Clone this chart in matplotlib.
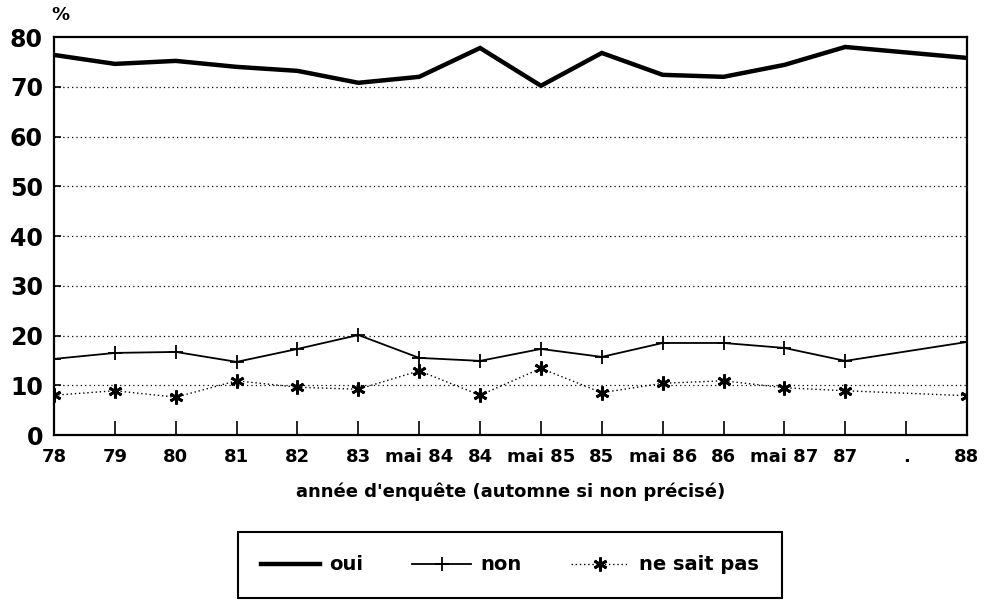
import numpy as np
import matplotlib
matplotlib.use('Agg')
import matplotlib.pyplot as plt

# survey dates (autumn unless stated), "." = no survey
labels = ['78', '79', '80', '81', '82', '83', 'mai 84', '84', 'mai 85', '85',
          'mai 86', '86', 'mai 87', '87', '.', '88']
oui = [76.4, 74.6, 75.2, 74.0, 73.2, 70.8, 72.0, 77.8, 70.2, 76.8,
       72.4, 72.0, 74.4, 78.0, None, 75.8]
non = [15.3, 16.5, 16.7, 14.7, 17.3, 20.1, 15.5, 14.9, 17.3, 15.7,
       18.5, 18.5, 17.5, 14.9, None, 18.7]
nsp = [8.0, 8.9, 7.6, 10.9, 9.6, 9.2, 12.9, 8.0, 13.4, 8.5,
       10.4, 10.9, 9.5, 8.9, None, 7.9]

plt.rcParams['font.family'] = ['DejaVu Sans']
plt.rcParams['font.weight'] = 'bold'


def valid(series):
    xs = [i for i, v in enumerate(series) if v is not None]
    ys = [v for v in series if v is not None]
    return xs, ys


fig = plt.figure(figsize=(9.86, 6.02), dpi=100)
ax = fig.add_axes([0.0548, 0.2774, 0.9259, 0.6611])

x, y = valid(oui)
ax.plot(x, y, color='black', lw=3.2, solid_joinstyle='miter', label='oui')
x, y = valid(non)
ax.plot(x, y, color='black', lw=1.3, marker='+', ms=10, mew=1.3, label='non')
x, y = valid(nsp)
ax.plot(x, y, color='black', lw=1.0, ls=(0, (1, 2)), marker=(6, 2, 0), ms=10,
        mew=2.0, label='ne sait pas')

ax.set_xlim(0, len(labels) - 1)
ax.set_ylim(0, 80)
ax.set_yticks(range(0, 81, 10))
ax.set_xticks(range(len(labels)))
ax.set_xticklabels(labels, fontsize=13, fontweight='bold')
ax.set_yticklabels([str(v) for v in range(0, 81, 10)], fontsize=17, fontweight='bold')
ax.tick_params(axis='x', direction='in', length=10, width=1.2, pad=9)
ax.tick_params(axis='y', direction='in', length=5, width=1.2, pad=8)

for v in range(10, 80, 10):
    ax.axhline(v, color='black', lw=0.9, ls=(0, (1, 2.5)), zorder=0)

for s in ax.spines.values():
    s.set_linewidth(1.6)

ax.set_xlabel("année d'enquête (automne si non précisé)", fontsize=13,
              fontweight='bold', labelpad=12)
fig.text(0.061, 0.975, '%', fontsize=13, fontweight='bold', ha='center', va='center')

leg = fig.legend(loc='center', bbox_to_anchor=(238 / 986, 2 / 602, 544 / 986, 70 / 602),
                 mode='expand', ncol=3, frameon=True, fancybox=False, framealpha=1,
                 edgecolor='black', prop={'size': 14, 'weight': 'bold'},
                 handlelength=3.0, borderpad=1.2, borderaxespad=0,
                 columnspacing=2.0, handletextpad=0.5)
leg.get_frame().set_linewidth(1.5)

plt.savefig('out.png', dpi=100)
